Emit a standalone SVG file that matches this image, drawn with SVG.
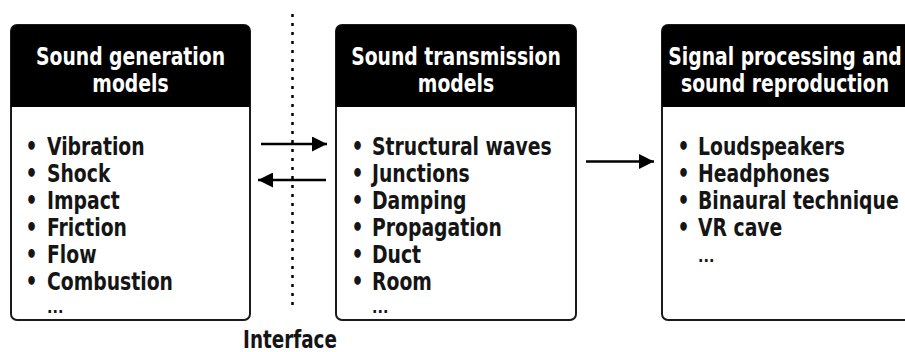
<svg xmlns="http://www.w3.org/2000/svg" width="905" height="352" viewBox="0 0 905 352">
<defs>
<marker id="ah" viewBox="0 0 10 10" refX="10" refY="5" markerWidth="6.5" markerHeight="6" markerUnits="strokeWidth" orient="auto"><path d="M0,0 L10,5 L0,10 Z" fill="#000"/></marker>
<style>
.box{fill:#fff;stroke:#1a1a1a;stroke-width:2}
.hdr{fill:#000}
.t{font-family:"DejaVu Sans Condensed","DejaVu Sans",sans-serif;font-weight:bold;font-size:24px;fill:#151515}
.d{font-family:"DejaVu Sans Condensed","DejaVu Sans",sans-serif;font-weight:bold;font-size:16px;fill:#151515}
.h{font-family:"DejaVu Sans Condensed","DejaVu Sans",sans-serif;font-weight:bold;font-size:24px;fill:#fff;text-anchor:middle}
.c{stroke:#000;stroke-width:2.5;fill:none}
</style>
</defs>
<rect width="905" height="352" fill="#fff"/>
<g id="interface">
<line x1="292.5" y1="14" x2="292.5" y2="305" stroke="#000" stroke-width="2.5" stroke-dasharray="3 6"/>
<text class="t" text-anchor="middle" transform="translate(290,348) scale(0.85,1)">Interface</text>
</g>
<g id="gen">
<rect class="box" x="11" y="25" width="239" height="295" rx="6"/>
<path class="hdr" d="M11,31 a6,6 0 0 1 6,-6 h227 a6,6 0 0 1 6,6 v76 h-239 z"/>
<text class="h" transform="translate(130.5,65) scale(0.87,1)">Sound generation</text>
<text class="h" transform="translate(130.5,92) scale(0.87,1)">models</text>
<text class="t" transform="translate(25.5,155) scale(0.87,1)">•<tspan x="24.7">Vibration</tspan></text>
<text class="t" transform="translate(25.5,182) scale(0.87,1)">•<tspan x="24.7">Shock</tspan></text>
<text class="t" transform="translate(25.5,209) scale(0.87,1)">•<tspan x="24.7">Impact</tspan></text>
<text class="t" transform="translate(25.5,236) scale(0.87,1)">•<tspan x="24.7">Friction</tspan></text>
<text class="t" transform="translate(25.5,263) scale(0.87,1)">•<tspan x="24.7">Flow</tspan></text>
<text class="t" transform="translate(25.5,290) scale(0.87,1)">•<tspan x="24.7">Combustion</tspan></text>
<text class="d" x="47" y="313">...</text>
</g>
<g id="trans">
<rect class="box" x="336" y="25" width="240" height="295" rx="6"/>
<path class="hdr" d="M336,31 a6,6 0 0 1 6,-6 h228 a6,6 0 0 1 6,6 v76 h-240 z"/>
<text class="h" transform="translate(456,65) scale(0.87,1)">Sound transmission</text>
<text class="h" transform="translate(456,92) scale(0.87,1)">models</text>
<text class="t" transform="translate(351.5,155) scale(0.87,1)">•<tspan x="23.6">Structural waves</tspan></text>
<text class="t" transform="translate(351.5,182) scale(0.87,1)">•<tspan x="23.6">Junctions</tspan></text>
<text class="t" transform="translate(351.5,209) scale(0.87,1)">•<tspan x="23.6">Damping</tspan></text>
<text class="t" transform="translate(351.5,236) scale(0.87,1)">•<tspan x="23.6">Propagation</tspan></text>
<text class="t" transform="translate(351.5,263) scale(0.87,1)">•<tspan x="23.6">Duct</tspan></text>
<text class="t" transform="translate(351.5,290) scale(0.87,1)">•<tspan x="23.6">Room</tspan></text>
<text class="d" x="372" y="313">...</text>
</g>
<g id="repro">
<rect class="box" x="662" y="25" width="250" height="295" rx="6"/>
<path class="hdr" d="M662,31 a6,6 0 0 1 6,-6 h238 a6,6 0 0 1 6,6 v76 h-250 z"/>
<text class="h" transform="translate(785,65) scale(0.87,1)">Signal processing and</text>
<text class="h" transform="translate(785,92) scale(0.87,1)">sound reproduction</text>
<text class="t" transform="translate(677.5,155) scale(0.87,1)">•<tspan x="23.6">Loudspeakers</tspan></text>
<text class="t" transform="translate(677.5,182) scale(0.87,1)">•<tspan x="23.6">Headphones</tspan></text>
<text class="t" transform="translate(677.5,209) scale(0.87,1)">•<tspan x="23.6">Binaural technique</tspan></text>
<text class="t" transform="translate(677.5,236) scale(0.87,1)">•<tspan x="23.6">VR cave</tspan></text>
<text class="d" x="698" y="262">...</text>
</g>
<g id="connectors">
<line class="c" x1="261" y1="144" x2="327" y2="144" marker-end="url(#ah)"/>
<line class="c" x1="326" y1="180" x2="258" y2="180" marker-end="url(#ah)"/>
<line class="c" x1="586" y1="161.5" x2="654" y2="161.5" marker-end="url(#ah)"/>
</g>
</svg>
